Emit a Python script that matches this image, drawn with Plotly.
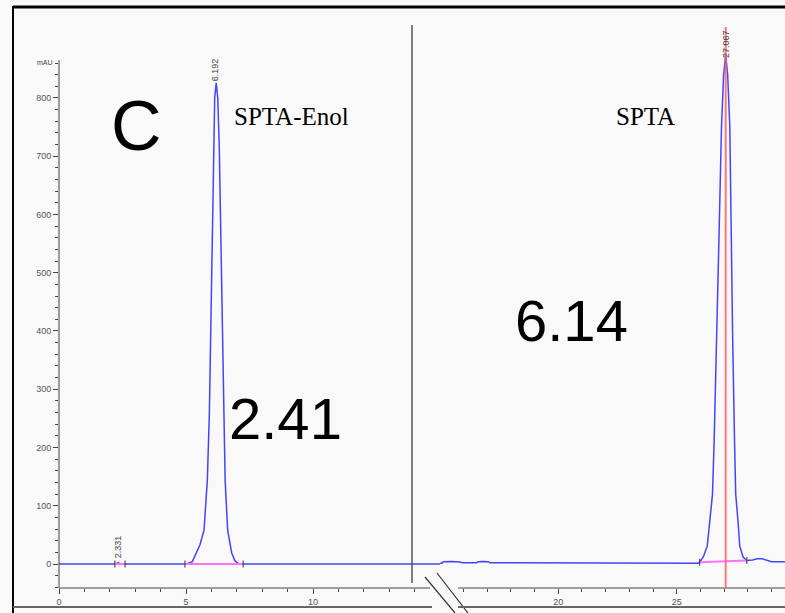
import plotly.graph_objects as go

# ---------------- data ----------------
# left chromatogram segment (time in min, absorbance in mAU)
left_t = [0.0, 2.20, 2.28, 2.33, 2.40, 2.60, 4.96, 5.08, 5.25, 5.42, 5.55, 5.71, 5.84, 5.92, 6.01,
          6.07, 6.13, 6.19, 6.25, 6.31, 6.40, 6.47, 6.54, 6.64, 6.72, 6.80, 6.92, 7.05, 7.25, 15.0]
left_a = [0.0, 0.0, 1.5, 2.0, 1.0, 0.0, 0.0, 1.0, 4.0, 19.0, 33.0, 58.0, 144.0, 259.0, 488.0,
          716.0, 800.0, 826.0, 800.0, 716.0, 488.0, 259.0, 144.0, 58.0, 35.0, 19.0, 6.0, 1.0, 0.0, 0.0]

# right chromatogram segment
right_t = [15.01, 15.09, 15.15, 15.50, 15.85, 15.95, 16.55, 16.62, 16.80, 16.95, 17.05, 17.12,
           25.90, 25.97, 26.12, 26.29, 26.40, 26.51, 26.58, 26.70, 26.79, 26.89, 26.98, 27.067,
           27.15, 27.24, 27.29, 27.36, 27.44, 27.49, 27.59, 27.66, 27.80, 27.96, 28.20, 28.40,
           28.60, 28.80, 29.00, 29.60]
right_a = [1.5, 1.5, 4.0, 4.5, 3.5, 2.0, 2.0, 4.0, 4.5, 3.5, 4.0, 2.0,
           1.5, 3.0, 12.0, 31.0, 72.0, 120.0, 211.0, 391.0, 571.0, 751.0, 840.0, 874.0,
           840.0, 751.0, 571.0, 391.0, 211.0, 120.0, 72.0, 31.0, 12.0, 6.0, 7.0, 9.0,
           9.0, 6.0, 4.0, 4.0]

# integration baselines (start/end time, start/end level)
base_left_t = [[2.20, 2.60], [4.96, 7.25]]
base_left_a = [[0.0, 0.0], [0.0, 0.0]]
base_right_t = [25.97, 27.96]
base_right_a = [3.0, 6.0]

# retention-time labels
rt_labels = ["2.331", "6.192", "27.067"]
rt_values = [2.331, 6.192, 27.067]

# axis ticks
y_ticks = [0, 100, 200, 300, 400, 500, 600, 700, 800]
x1_ticks = [0, 5, 10]
x2_ticks = [20, 25]

# text on the figure
panel_label = "C"
name_left = "SPTA-Enol"
name_right = "SPTA"
value_left = "2.41"
value_right = "6.14"

# ---------------- layout helpers ----------------
W, H = 785, 613
L, R, T, B = 59, 0, 25, 25
PW, PH = W - L - R, H - T - B


def px_x(p):
    return (p - L) / PW


def px_y(p):
    return (H - B - p) / PH


split = px_x(440)
BLUE = "#4444ff"
PINK = "#ff70ff"
GREY = "#555555"
tick_font = dict(family="Liberation Sans, Arial", size=9, color="#555555")

fig = go.Figure()

fig.add_trace(go.Scatter(x=left_t, y=left_a, xaxis="x", yaxis="y", mode="lines",
                         line=dict(color=BLUE, width=1.5), hoverinfo="skip"))
fig.add_trace(go.Scatter(x=right_t, y=right_a, xaxis="x2", yaxis="y", mode="lines",
                         line=dict(color=BLUE, width=1.5), hoverinfo="skip"))

for bt, ba in zip(base_left_t, base_left_a):
    fig.add_trace(go.Scatter(x=bt, y=ba, xaxis="x", yaxis="y", mode="lines+markers",
                             line=dict(color=PINK, width=2),
                             marker=dict(symbol="line-ns-open", size=5, color="#333",
                                         line=dict(width=1, color="#333")),
                             hoverinfo="skip"))
fig.add_trace(go.Scatter(x=base_right_t, y=base_right_a, xaxis="x2", yaxis="y", mode="lines+markers",
                         line=dict(color=PINK, width=2),
                         marker=dict(symbol="line-ns-open", size=5, color="#333",
                                     line=dict(width=1, color="#333")),
                         hoverinfo="skip"))

y_min, y_max = -41.2, 925.3
x1_max = 15.0
x2_min, x2_max = 15.01, 29.57

minor_y = [v for v in range(-40, 861, 20) if v % 100 != 0]

shapes = []
# y axis line
shapes.append(dict(type="line", xref="paper", yref="y", x0=0, x1=0, y0=y_min, y1=865,
                   line=dict(color="#444", width=1)))
# x axis lines (broken)
shapes.append(dict(type="line", xref="paper", yref="paper", x0=px_x(59), x1=px_x(430), y0=0, y1=0,
                   line=dict(color="#444", width=1)))
shapes.append(dict(type="line", xref="paper", yref="paper", x0=px_x(458), x1=px_x(785), y0=0, y1=0,
                   line=dict(color="#444", width=1)))
# break slashes
shapes.append(dict(type="line", xref="paper", yref="paper", x0=px_x(425), y0=px_y(577),
                   x1=px_x(455), y1=px_y(613), line=dict(color="#333", width=1.2)))
shapes.append(dict(type="line", xref="paper", yref="paper", x0=px_x(437), y0=px_y(573),
                   x1=px_x(468), y1=px_y(613), line=dict(color="#333", width=1.2)))
# divider line between the two chromatograms
shapes.append(dict(type="line", xref="paper", yref="paper", x0=px_x(412), x1=px_x(412),
                   y0=px_y(583), y1=px_y(25), line=dict(color=GREY, width=1.5)))
# retention marker of the second peak
shapes.append(dict(type="line", xref="x2", yref="paper", x0=rt_values[2], x1=rt_values[2],
                   y0=0, y1=px_y(27), line=dict(color="#ff6060", width=2), opacity=0.85))
# outer frame
shapes.append(dict(type="line", xref="paper", yref="paper", x0=px_x(13), x1=px_x(790),
                   y0=px_y(7), y1=px_y(7), line=dict(color="#000", width=3)))
shapes.append(dict(type="line", xref="paper", yref="paper", x0=px_x(13), x1=px_x(13),
                   y0=px_y(6), y1=px_y(615), line=dict(color="#000", width=2)))
shapes.append(dict(type="line", xref="paper", yref="paper", x0=px_x(13), x1=px_x(432),
                   y0=px_y(607), y1=px_y(607), line=dict(color="#666", width=2)))
shapes.append(dict(type="line", xref="paper", yref="paper", x0=px_x(458), x1=px_x(790),
                   y0=px_y(607), y1=px_y(607), line=dict(color="#666", width=2)))

ann = []


def text(s, cx, cy, size, family, color="#000", angle=0):
    ann.append(dict(text=s, xref="paper", yref="paper", x=px_x(cx), y=px_y(cy),
                    xanchor="center", yanchor="middle", showarrow=False, textangle=angle,
                    font=dict(family=family, size=size, color=color)))


sans = "Liberation Sans, Arial"
serif = "Liberation Serif, Times New Roman"
text(panel_label, 136, 126, 70, sans)
text(name_left, 291, 116, 25, serif, "#000")
text(name_right, 645, 116, 25, serif, "#000")
text(value_left, 285, 418, 58, sans)
text(value_right, 571, 320, 58, sans)
text("mAU", 45, 62, 7, sans, "#444")

# rotated retention time labels
text(rt_labels[0], L + rt_values[0] * 25.4, 547, 9, sans, "#444", -90)
text(rt_labels[1], L + rt_values[1] * 25.4 - 1, 70, 9, sans, "#444", -90)
text(rt_labels[2], 726, 44, 9, sans, "#444", -90)

fig.update_layout(
    width=W, height=H,
    margin=dict(l=L, r=R, t=T, b=B),
    paper_bgcolor="#f9f9f9", plot_bgcolor="#f9f9f9",
    showlegend=False,
    shapes=shapes, annotations=ann,
    xaxis=dict(domain=[0, split], range=[0, x1_max], anchor="y", showline=False, showgrid=False,
               zeroline=False, tickvals=x1_ticks, ticktext=[str(v) for v in x1_ticks],
               ticks="outside", ticklen=5, tickcolor="#444", tickfont=tick_font,
               minor=dict(tickvals=[v for v in range(0, 15) if v % 5 != 0], ticks="outside",
                          ticklen=3, tickcolor="#444")),
    xaxis2=dict(domain=[split, 1], range=[x2_min, x2_max], anchor="y", showline=False,
                showgrid=False, zeroline=False, tickvals=x2_ticks,
                ticktext=[str(v) for v in x2_ticks], ticks="outside", ticklen=5,
                tickcolor="#444", tickfont=tick_font,
                minor=dict(tickvals=[v for v in range(16, 30) if v % 5 != 0], ticks="outside",
                           ticklen=3, tickcolor="#444")),
    yaxis=dict(range=[y_min, y_max], anchor="x", showline=False, showgrid=False, zeroline=False,
               tickvals=y_ticks, ticktext=[str(v) for v in y_ticks], ticks="outside", ticklen=5,
               tickcolor="#444", tickfont=tick_font,
               minor=dict(tickvals=minor_y, ticks="outside", ticklen=3, tickcolor="#444")),
)

fig.write_html("out.html")
